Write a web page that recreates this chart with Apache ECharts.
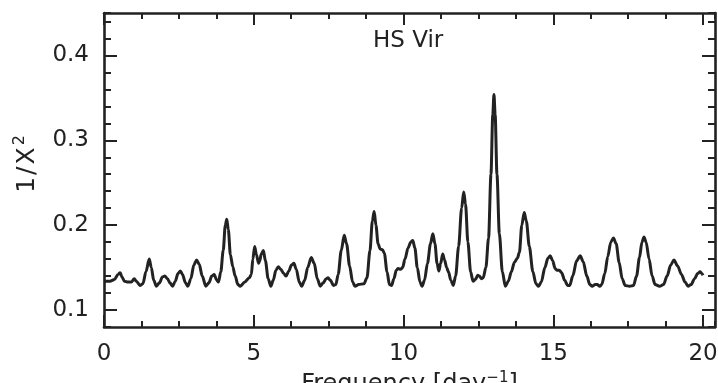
<!DOCTYPE html>
<html>
<head>
<meta charset="utf-8">
<title>HS Vir periodogram</title>
<script src="https://cdn.jsdelivr.net/npm/echarts@6/dist/echarts.min.js"></script>
<style>
  html, body { margin: 0; padding: 0; background: #fff; }
  #chart { width: 718px; height: 383px; }
</style>
</head>
<body>
<div id="chart"></div>
<script>
// Frequency grid (day^-1) and the 1/X^2 statistic at each frequency
const freq = [
  0.00, 0.20, 0.35, 0.47, 0.54, 0.60, 0.68, 0.80, 0.92, 1.01,
  1.08, 1.20, 1.30, 1.40, 1.51, 1.58, 1.66, 1.75, 1.85, 1.95,
  2.03, 2.12, 2.20, 2.29, 2.38, 2.47, 2.55, 2.62, 2.72, 2.80,
  2.90, 3.00, 3.09, 3.18, 3.28, 3.40, 3.50, 3.60, 3.68, 3.75,
  3.82, 3.90, 3.98, 4.05, 4.10, 4.15, 4.22, 4.30, 4.38, 4.47,
  4.55, 4.70, 4.85, 4.92, 4.97, 5.03, 5.09, 5.16, 5.20, 5.25,
  5.32, 5.39, 5.48, 5.57, 5.65, 5.74, 5.82, 5.90, 6.00, 6.08,
  6.17, 6.26, 6.34, 6.42, 6.52, 6.60, 6.70, 6.80, 6.92, 7.02,
  7.12, 7.22, 7.32, 7.42, 7.48, 7.56, 7.66, 7.74, 7.82, 7.92,
  8.02, 8.10, 8.20, 8.30, 8.38, 8.50, 8.68, 8.78, 8.88, 8.96,
  9.02, 9.08, 9.15, 9.22, 9.30, 9.36, 9.45, 9.53, 9.60, 9.68,
  9.76, 9.82, 9.90, 9.97, 10.05, 10.15, 10.24, 10.31, 10.38, 10.46,
  10.55, 10.62, 10.70, 10.80, 10.90, 10.98, 11.05, 11.12, 11.18, 11.24,
  11.31, 11.37, 11.44, 11.50, 11.58, 11.66, 11.74, 11.84, 11.94, 12.01,
  12.07, 12.15, 12.24, 12.32, 12.40, 12.48, 12.53, 12.60, 12.66, 12.75,
  12.84, 12.92, 12.98, 13.02, 13.06, 13.12, 13.20, 13.30, 13.40, 13.50,
  13.60, 13.70, 13.80, 13.87, 13.95, 14.03, 14.10, 14.20, 14.32, 14.42,
  14.51, 14.60, 14.72, 14.82, 14.90, 14.98, 15.06, 15.12, 15.20, 15.28,
  15.38, 15.48, 15.55, 15.65, 15.78, 15.90, 16.00, 16.12, 16.22, 16.30,
  16.40, 16.47, 16.55, 16.62, 16.72, 16.82, 16.92, 17.01, 17.10, 17.20,
  17.30, 17.40, 17.55, 17.68, 17.78, 17.88, 17.96, 18.03, 18.10, 18.20,
  18.30, 18.40, 18.55, 18.68, 18.80, 18.92, 19.03, 19.15, 19.28, 19.40,
  19.50, 19.60, 19.72, 19.82, 19.90, 19.96, 20.00
];
const power = [
  0.134, 0.134, 0.136, 0.142, 0.144, 0.139, 0.134, 0.133, 0.133, 0.137,
  0.134, 0.129, 0.131, 0.145, 0.160, 0.150, 0.135, 0.128, 0.132, 0.139,
  0.140, 0.137, 0.132, 0.128, 0.134, 0.143, 0.146, 0.142, 0.132, 0.128,
  0.137, 0.153, 0.159, 0.154, 0.140, 0.128, 0.132, 0.140, 0.142, 0.136,
  0.133, 0.145, 0.170, 0.200, 0.207, 0.195, 0.165, 0.151, 0.140, 0.130,
  0.128, 0.133, 0.138, 0.142, 0.160, 0.175, 0.165, 0.155, 0.158, 0.166,
  0.170, 0.158, 0.137, 0.128, 0.135, 0.147, 0.151, 0.148, 0.143, 0.140,
  0.146, 0.153, 0.155, 0.148, 0.133, 0.128, 0.135, 0.150, 0.162, 0.155,
  0.137, 0.128, 0.132, 0.137, 0.138, 0.135, 0.129, 0.130, 0.142, 0.170,
  0.188, 0.178, 0.152, 0.133, 0.128, 0.130, 0.131, 0.138, 0.170, 0.205,
  0.216, 0.200, 0.178, 0.172, 0.171, 0.167, 0.145, 0.130, 0.129, 0.137,
  0.147, 0.149, 0.148, 0.150, 0.160, 0.173, 0.180, 0.182, 0.173, 0.150,
  0.133, 0.128, 0.135, 0.155, 0.178, 0.190, 0.178, 0.155, 0.146, 0.155,
  0.166, 0.159, 0.150, 0.145, 0.135, 0.129, 0.140, 0.175, 0.220, 0.239,
  0.225, 0.180, 0.145, 0.134, 0.136, 0.141, 0.140, 0.137, 0.138, 0.150,
  0.185, 0.260, 0.330, 0.354, 0.330, 0.260, 0.190, 0.145, 0.128, 0.134,
  0.145, 0.156, 0.161, 0.168, 0.200, 0.215, 0.205, 0.175, 0.145, 0.131,
  0.128, 0.133, 0.150, 0.161, 0.164, 0.158, 0.149, 0.147, 0.147, 0.144,
  0.135, 0.129, 0.129, 0.140, 0.158, 0.164, 0.157, 0.140, 0.130, 0.128,
  0.130, 0.130, 0.128, 0.130, 0.143, 0.163, 0.180, 0.185, 0.178, 0.156,
  0.137, 0.129, 0.128, 0.129, 0.140, 0.162, 0.180, 0.186, 0.180, 0.160,
  0.140, 0.130, 0.128, 0.130, 0.140, 0.153, 0.159, 0.152, 0.142, 0.133,
  0.128, 0.130, 0.137, 0.143, 0.145, 0.143, 0.141
];

// Axis ranges and labelled ticks
const xRange = [0, 20.4];
const yRange = [0.08, 0.45];
const xMajorTicks = [0, 5, 10, 15, 20];
const yMajorTicks = [0.1, 0.2, 0.3, 0.4];
const xMinorStep = 1.25;
const yMinorStep = 0.02;

const ink = '#222';
const font = 'DejaVu Sans';

const chart = echarts.init(document.getElementById('chart'), null, { renderer: 'canvas' });

// Major axes carry the frame line, long ticks and labels; minor axes add short ticks only
function xAxisDef(position, major, withLabels) {
  return {
    type: 'value',
    position: position,
    min: xRange[0], max: xRange[1],
    interval: major ? undefined : xMinorStep,
    splitLine: { show: false },
    axisLine: { show: major, onZero: false, lineStyle: { color: ink, width: 2.6 } },
    axisTick: major
      ? { show: true, inside: true, length: 12, customValues: xMajorTicks, lineStyle: { color: ink, width: 2 } }
      : { show: true, inside: true, length: 6, lineStyle: { color: ink, width: 2 } },
    axisLabel: withLabels
      ? { show: true, customValues: xMajorTicks, margin: 16, color: ink, fontFamily: font, fontSize: 23,
          formatter: v => String(v) }
      : { show: false }
  };
}

function yAxisDef(position, major, withLabels) {
  return {
    type: 'value',
    position: position,
    min: yRange[0], max: yRange[1],
    interval: major ? undefined : yMinorStep,
    splitLine: { show: false },
    axisLine: { show: major, onZero: false, lineStyle: { color: ink, width: 2.6 } },
    axisTick: major
      ? { show: true, inside: true, length: 13, customValues: yMajorTicks, lineStyle: { color: ink, width: 2 } }
      : { show: true, inside: true, length: 7, lineStyle: { color: ink, width: 2 } },
    axisLabel: withLabels
      ? { show: true, customValues: yMajorTicks, margin: 15, color: ink, fontFamily: font, fontSize: 23,
          formatter: v => v.toFixed(1) }
      : { show: false }
  };
}

const xAxes = [
  xAxisDef('bottom', true, true),
  xAxisDef('bottom', false, false),
  xAxisDef('top', true, false),
  xAxisDef('top', false, false)
];
xAxes[0].name = 'Frequency [day{sup|\u22121}]';
xAxes[0].nameLocation = 'middle';
xAxes[0].nameGap = 39;
xAxes[0].nameTextStyle = {
  color: ink, fontFamily: font, fontSize: 24, verticalAlign: 'top',
  rich: { sup: { fontSize: 15, fontFamily: font, color: ink, padding: [0, 0, 12, 0] } }
};

const yAxes = [
  yAxisDef('left', true, true),
  yAxisDef('left', false, false),
  yAxisDef('right', true, false),
  yAxisDef('right', false, false)
];
yAxes[0].name = '{a|1}{g|/}{g|X}{sup|2}';
yAxes[0].nameLocation = 'middle';
yAxes[0].nameRotate = 90;
yAxes[0].nameGap = 62;
yAxes[0].nameTextStyle = {
  color: ink, fontFamily: font, fontSize: 25,
  rich: {
    a: { fontSize: 25, fontFamily: font, color: ink, padding: [0, 1, 0, 12] },
    g: { fontSize: 25, fontFamily: font, color: ink, padding: [0, 1, 0, 1] },
    sup: { fontSize: 16, fontFamily: font, color: ink, padding: [0, 0, 14, 1] }
  }
};

chart.setOption({
  animation: false,
  backgroundColor: '#fff',
  title: {
    text: 'HS Vir',
    left: 373, top: 30, padding: 0,
    textStyle: { color: ink, fontFamily: font, fontSize: 23, fontWeight: 'normal' }
  },
  grid: { left: 104, right: 3, top: 13, bottom: 56, outerBoundsMode: 'none', containLabel: false },
  xAxis: xAxes,
  yAxis: yAxes,
  series: [{
    type: 'line',
    xAxisIndex: 0,
    yAxisIndex: 0,
    data: freq.map((f, i) => [f, power[i]]),
    showSymbol: false,
    smooth: 0.3,
    smoothMonotone: 'x',
    lineStyle: { color: ink, width: 3, join: 'round' },
    clip: true
  }]
});
</script>
</body>
</html>
